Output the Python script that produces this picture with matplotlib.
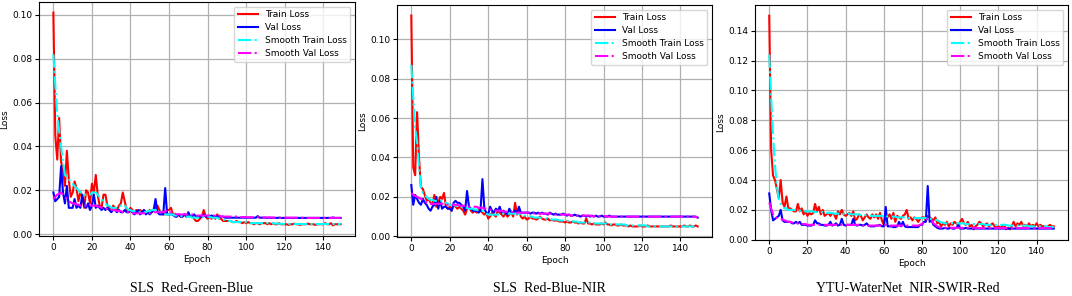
import matplotlib.pyplot as plt
import numpy as np

epochs = list(range(150))

# loss values, in units of 1e-3
rgb_train = [101, 45, 34, 53, 33, 29, 22, 38, 25, 17,
             19, 24, 21, 15, 19, 17, 12, 20, 19, 14,
             23, 19, 27, 18, 13, 12, 18, 18, 13, 12,
             11, 13, 12, 11, 13, 14, 19, 15, 11, 10,
             12, 11, 10, 11, 10, 11, 10, 11, 10, 10,
             11, 10, 11, 12, 13, 11, 10, 9, 9, 11,
             11, 12, 9, 9, 8, 9, 8, 8, 9, 8,
             9, 8, 8, 7, 6, 6, 7, 8, 11, 8,
             7, 8, 7, 8, 7, 9, 7, 7, 6, 6,
             6, 6, 6, 5.5, 5.5, 6, 5.5, 5.5, 5, 5.5,
             5, 5.5, 5, 5, 4.5, 5, 5, 4.5, 5, 5,
             5, 4.5, 5, 4.5, 5, 4.5, 4.5, 5, 4.5, 4.5,
             4.5, 4.5, 4.2, 4.5, 4.5, 4.8, 4.5, 4.5, 4.2, 4.5,
             4.5, 4.5, 4.8, 4.5, 4.5, 4.5, 4.2, 4.5, 4.5, 4.5,
             4.5, 5, 4.5, 4.5, 5, 4, 4.5, 4.5, 4.5, 4.5]
rgb_val = [19, 15, 16, 17, 31, 19, 14, 22, 12, 12,
           12, 16, 12, 13, 12, 18, 13, 12, 14, 11,
           13, 18, 12, 13, 12, 11, 12, 11, 12, 11,
           10, 11, 11, 10, 11, 10, 10, 11, 10, 10,
           11, 10, 9, 10, 11, 9, 10, 11, 9, 10,
           9, 10, 11, 16, 10, 9, 9, 9, 21, 9,
           9, 9, 9, 8, 8, 9, 8, 8, 9, 8,
           10, 8, 8, 9, 8, 8, 8, 8, 9, 8,
           8, 8, 8.5, 8, 8, 8, 8, 8, 8, 7.5,
           7.5, 7.5, 7.5, 7.5, 7.5, 7.5, 7.5, 7.5, 7.5, 7.5,
           7.5, 7.5, 7.5, 7.5, 7.5, 7.5, 8.2, 7.5, 7.5, 7.5,
           7.5, 7.4, 7.5, 7.4, 7.5, 7.4, 7.4, 7.5, 7.4, 7.4,
           7.4, 7.4, 7.4, 7.4, 7.4, 7.4, 7.4, 7.4, 7.4, 7.4,
           7.4, 7.4, 7.4, 7.4, 7.4, 7.4, 7.4, 7.4, 7.4, 7.4,
           7.4, 7.4, 7.4, 7.4, 7.4, 7.6, 7.4, 7.4, 7.4, 7.4]
rgb_smooth_train = [82, 68, 55, 47, 40, 33, 27, 26, 25, 24,
                    23, 22, 21, 20, 19, 19, 18, 18, 18, 18,
                    19, 19, 19, 18, 17, 16, 15, 14, 13, 13,
                    12, 12, 12, 12, 12.5, 13, 13.5, 13, 12, 11,
                    11, 10.5, 10.5, 10, 10, 10, 10, 10, 10, 10.5,
                    10.5, 11, 11, 11, 11, 10.5, 10, 9.5, 9, 9,
                    9, 9, 9, 8.5, 8.5, 8.5, 8.5, 8, 8, 8,
                    8, 8, 7.5, 7.5, 7.5, 7.5, 7.5, 7.5, 8, 8,
                    8, 8, 7.5, 7.5, 7.5, 7.5, 7, 7, 6.5, 6.5,
                    6, 6, 6, 5.5, 5.5, 5.5, 5.5, 5.5, 5.5, 5.5,
                    5.5, 5.5, 5, 5, 5, 5, 5, 5, 5, 5,
                    5, 5, 5, 5, 5, 4.8, 4.8, 4.8, 4.7, 4.7,
                    4.7, 4.6, 4.6, 4.6, 4.6, 4.6, 4.6, 4.6, 4.6, 4.6,
                    4.6, 4.6, 4.6, 4.6, 4.6, 4.6, 4.6, 4.6, 4.6, 4.6,
                    4.6, 4.6, 4.6, 4.6, 4.6, 4.6, 4.6, 4.6, 4.6, 4.6]
rgb_smooth_val = [16, 17, 18, 18.5, 19, 18, 17, 16, 15, 14.5,
                  14, 14, 13.5, 13.5, 13, 13, 13, 13, 13, 13,
                  13, 13, 13, 12.5, 12.5, 12, 12, 11.5, 11.5, 11,
                  11, 11, 11, 10.5, 10.5, 10.5, 10, 10, 10, 10,
                  10, 9.5, 9.5, 9.5, 9.5, 9.5, 9.5, 9.5, 9.5, 9.5,
                  9.5, 9.5, 10, 10, 10, 10, 10, 10, 10.5, 10.5,
                  10, 10, 9.5, 9.5, 9, 9, 9, 9, 9, 9,
                  9, 9, 9, 9, 8.5, 8.5, 8.5, 8.5, 8.5, 8.5,
                  8.5, 8.5, 8.5, 8.5, 8.5, 8.5, 8.5, 8, 8, 8,
                  8, 8, 8, 8, 8, 8, 8, 7.8, 7.8, 7.8,
                  7.7, 7.7, 7.7, 7.7, 7.7, 7.7, 7.7, 7.6, 7.6, 7.6,
                  7.6, 7.6, 7.6, 7.6, 7.5, 7.5, 7.5, 7.5, 7.5, 7.5,
                  7.5, 7.5, 7.5, 7.5, 7.5, 7.5, 7.5, 7.5, 7.5, 7.5,
                  7.4, 7.4, 7.4, 7.4, 7.4, 7.4, 7.4, 7.4, 7.4, 7.4,
                  7.4, 7.4, 7.4, 7.4, 7.4, 7.4, 7.4, 7.4, 7.4, 7.4]

nir_train = [112, 35, 31, 63, 40, 25, 24, 21, 18, 19,
             17, 16, 21, 15, 17, 20, 19, 22, 15, 14,
             15, 13, 16, 15, 14, 15, 14, 13, 11, 14,
             15, 13, 12, 13, 12, 14, 13, 12, 11, 12,
             9, 10, 12, 11, 10, 13, 12, 11, 10, 12,
             10, 11, 12, 10, 17, 11, 13, 10, 9, 10,
             8.5, 9, 10, 9, 9, 8.5, 9, 10, 9, 8.5,
             8.5, 9, 8, 8.5, 8, 8, 8, 7.5, 7.5, 7.5,
             7, 7.5, 7, 7, 7.5, 7, 7, 6.5, 7, 6.5,
             6.5, 9, 6.5, 6.5, 6, 6.5, 6, 6, 6, 6.5,
             6, 7, 6, 6, 5.5, 6, 6, 5.5, 5.5, 6,
             5.5, 5.5, 5.5, 5, 5.5, 5, 5, 5, 5, 5.5,
             5, 5, 5, 5.5, 5, 5, 5, 5, 5, 5,
             5, 5, 5, 5, 5, 5.5, 5, 5, 5, 5,
             5, 5, 5.5, 5, 5, 5.5, 5, 5, 5.5, 5]
nir_val = [26, 16, 21, 19, 17, 16, 19, 17, 16, 14,
           13, 15, 16, 20, 14, 18, 14, 15, 15, 14,
           14, 13, 17, 18, 17, 17, 16, 15, 13, 23,
           15, 14, 13, 13, 13, 12, 13, 29, 14, 12,
           11, 15, 13, 12, 14, 13, 15, 12, 13, 12,
           11, 14, 12, 12, 13, 12, 15, 12, 12, 12,
           12, 12, 11.5, 12, 12, 11.5, 12, 11.5, 12, 11.5,
           11.5, 11, 12, 11.5, 11, 11.5, 11, 11, 11, 11.5,
           11, 10.5, 11, 10.5, 10.5, 11, 10.5, 10.5, 10, 10.5,
           10.5, 10, 10.5, 10, 10.5, 10, 10.5, 10, 10, 10.5,
           10, 10, 10, 10.5, 10, 10, 10, 10, 10, 10,
           10, 10, 10, 10, 10, 10, 10, 10, 10, 10,
           10, 10, 10, 10, 10, 10, 10, 10, 10, 10,
           10, 10, 10, 10, 10, 10, 10, 10, 10, 10,
           10, 10, 10, 10, 10, 10, 10, 10, 10, 9.5]
nir_smooth_train = [87, 70, 55, 48, 35, 25, 22, 21, 20, 19,
                    18.5, 18.5, 18, 18, 18, 18, 18, 18, 17, 16.5,
                    16, 16, 16, 15.5, 15.5, 15, 15, 15, 14.5, 14.5,
                    14, 14, 14, 13.5, 13.5, 13, 13, 13, 12, 11.5,
                    11, 11, 11, 11, 11, 11, 11, 11.5, 11.5, 11.5,
                    11.5, 11.5, 11.5, 11.5, 11.5, 11.5, 11.5, 11, 11, 10.5,
                    10.5, 10, 10, 10, 9.5, 9.5, 9.5, 9.5, 9, 9,
                    9, 9, 9, 8.5, 8.5, 8.5, 8.5, 8, 8, 8,
                    8, 8, 7.5, 7.5, 7.5, 7.5, 7.5, 7, 7, 7,
                    7, 7, 7, 7, 7, 6.5, 6.5, 6.5, 6.5, 6.5,
                    6.5, 6.5, 6.5, 6, 6, 6, 6, 6, 6, 6,
                    6, 6, 5.5, 5.5, 5.5, 5.5, 5.5, 5.5, 5.5, 5.5,
                    5.5, 5.5, 5.5, 5, 5, 5, 5, 5, 5, 5,
                    5, 5, 5, 5, 5, 5, 5, 5, 5, 5,
                    5, 5, 5, 5, 5, 5, 5, 5, 5, 5]
nir_smooth_val = [22, 21, 20.5, 20, 19.5, 19, 18.5, 18, 17, 16.5,
                  16.5, 16.5, 16.5, 16.5, 16.5, 16.5, 16.5, 16.5, 16, 16,
                  16, 16, 16, 16, 16, 15.5, 15.5, 15.5, 15.5, 15,
                  15, 15, 15, 15, 15, 14.5, 14.5, 14.5, 14, 14,
                  13.5, 13.5, 13.5, 13, 13, 13, 13, 13, 12.5, 12.5,
                  12.5, 12.5, 12.5, 12, 12, 12, 12, 12, 12, 12,
                  12, 12, 12, 12, 11.5, 11.5, 11.5, 11.5, 11.5, 11.5,
                  11.5, 11.5, 11.5, 11.5, 11, 11, 11, 11, 11, 11,
                  11, 11, 11, 10.5, 10.5, 10.5, 10.5, 10.5, 10.5, 10.5,
                  10.5, 10.5, 10.5, 10.5, 10.2, 10.2, 10.2, 10.2, 10.2, 10.2,
                  10.2, 10.2, 10, 10, 10, 10, 10, 10, 10, 10,
                  10, 10, 10, 10, 10, 10, 10, 10, 10, 10,
                  10, 10, 10, 10, 10, 10, 10, 10, 10, 10,
                  10, 10, 10, 10, 10, 10, 10, 10, 10, 10,
                  10, 10, 10, 10, 10, 10, 10, 10, 9.8, 9.5]

ytu_train = [150, 60, 43, 40, 34, 28, 40, 25, 22, 29,
             21, 21, 20, 19, 19, 24, 19, 21, 17, 19,
             16, 18, 17, 18, 24, 19, 22, 17, 20, 16,
             17, 18, 16, 18, 17, 14, 19, 17, 20, 17,
             16, 17, 18, 16, 19, 13, 14, 17, 16, 13,
             15, 17, 15, 14, 17, 15, 17, 14, 18, 13,
             10, 16, 15, 17, 14, 18, 12, 16, 15, 14,
             16, 17, 20, 14, 15, 13, 15, 14, 12, 14,
             15, 15, 13, 16, 15, 14, 13, 15, 11, 12,
             9, 11, 10, 12, 9, 11, 10, 12, 11, 10,
             12, 14, 11, 10, 12, 9, 10, 7, 9, 10,
             12, 11, 9, 10, 11, 9, 10, 11, 9, 8,
             9, 8, 9, 10, 7, 8, 7, 9, 12, 9,
             11, 10, 12, 9, 10, 9, 11, 9, 10, 9,
             11, 9, 10, 9, 9, 8.5, 9, 10, 9, 9]
ytu_val = [31, 20, 13, 14, 15, 16, 20, 13, 12, 12,
           12, 12, 11, 11, 12, 11, 12, 10, 10, 10,
           9.5, 9.5, 9.5, 10, 13, 11, 11, 10, 10, 9.5,
           9.5, 10, 12, 9.5, 10, 11, 9.5, 10, 14, 10,
           9.5, 10, 10, 10, 14, 10, 9.5, 10, 10, 9.5,
           10, 11, 9.5, 9, 9, 9, 9.5, 9.5, 10, 9,
           9, 22, 9, 9, 9, 8.5, 8.5, 9, 12, 9,
           12, 9, 8.5, 8.5, 8.5, 8.5, 8.5, 8.5, 8.5, 10,
           10, 12, 12, 36, 12, 13, 10, 9, 8, 7.5,
           7.5, 7.5, 8, 7.5, 7.5, 8, 7.5, 7.5, 8, 10,
           7.5, 7.5, 7.5, 8, 7.5, 7.5, 7.5, 7.5, 7.5, 7.5,
           7.5, 7.5, 7.5, 7.5, 7.5, 7.5, 7.5, 7.5, 7.5, 7.5,
           7.5, 7.5, 7.5, 7.5, 7.5, 7.5, 7.5, 7.5, 7.5, 7.5,
           7.5, 7.5, 7.5, 7.5, 7.5, 7.5, 7.5, 7.5, 7.5, 7.5,
           7.5, 7.5, 7.5, 7.5, 7.5, 7.5, 7.5, 7.5, 7.5, 7.5]
ytu_smooth_train = [124, 95, 70, 50, 36, 27, 24, 22, 21, 21,
                    20, 20, 20, 20, 19.5, 19.5, 19.5, 19.5, 19, 19,
                    19, 19, 19, 19, 18.5, 18.5, 18.5, 18.5, 18.5, 18,
                    18, 18, 18, 18, 17.5, 17.5, 17.5, 17.5, 17.5, 17.5,
                    17.5, 17.5, 17.5, 17, 17, 17, 17, 17, 16.5, 16.5,
                    16.5, 16.5, 16.5, 16, 16, 16, 16, 16, 16, 16,
                    16, 16, 15.5, 15.5, 15.5, 15.5, 15.5, 15, 15, 15,
                    15, 15, 15, 14.5, 14.5, 14.5, 14.5, 14.5, 14.5, 14.5,
                    14.5, 14.5, 14.5, 14.5, 14, 14, 14, 13.5, 13, 12.5,
                    11.5, 11.5, 11, 11, 11, 11, 11, 11, 11, 11,
                    11, 11, 11, 10.5, 10.5, 10.5, 10.5, 10.5, 10.5, 10.5,
                    10.5, 10.5, 10.5, 10, 10, 10, 10, 10, 10, 10,
                    10, 10, 10, 10, 10, 9.5, 9.5, 9.5, 9.5, 9.5,
                    9.5, 9.5, 9.5, 9.5, 9.5, 9.5, 9, 9, 9, 9,
                    9, 9, 9, 9, 9, 9, 8.5, 8.5, 8.5, 8.5]
ytu_smooth_val = [25, 21, 17, 15, 14.5, 14, 14, 13.5, 13, 12.5,
                  12, 12, 11.5, 11.5, 11, 11, 11, 10.5, 10.5, 10.5,
                  10, 10, 10, 10, 10, 10, 10, 10, 10, 10,
                  10, 10, 10, 10, 10, 10, 10, 10, 10, 10,
                  10, 10, 10, 10, 10, 10, 10, 10, 9.5, 9.5,
                  9.5, 9.5, 9.5, 9.5, 9.5, 9.5, 9.5, 9.5, 9.5, 9.5,
                  9.5, 10, 10, 9.5, 9.5, 9.5, 9.5, 9.5, 9.5, 9.5,
                  9.5, 9.5, 9.5, 9.5, 9.5, 9.5, 9.5, 9.5, 9.5, 10,
                  10.5, 12, 13, 14, 14, 13, 11, 10, 9, 8.5,
                  8, 8, 8, 8, 8, 8, 8, 8, 8, 8,
                  8, 8, 8, 8, 8, 8, 8, 8, 8, 7.8,
                  7.8, 7.8, 7.8, 7.8, 7.8, 7.8, 7.8, 7.8, 7.8, 7.8,
                  7.8, 7.8, 7.8, 7.8, 7.8, 7.8, 7.8, 7.8, 7.8, 7.8,
                  7.8, 7.8, 7.8, 7.8, 7.8, 7.8, 7.8, 7.8, 7.8, 7.8,
                  7.8, 7.8, 7.8, 7.8, 7.8, 7.8, 7.8, 7.8, 7.8, 7.8]

captions = ['SLS  Red-Green-Blue', 'SLS  Red-Blue-NIR', 'YTU-WaterNet  NIR-SWIR-Red']
panels = [
    (rgb_train, rgb_val, rgb_smooth_train, rgb_smooth_val),
    (nir_train, nir_val, nir_smooth_train, nir_smooth_val),
    (ytu_train, ytu_val, ytu_smooth_train, ytu_smooth_val),
]
ytop = [0.10, 0.10, 0.14]

W, H = 1072, 296
fig = plt.figure(figsize=(W / 100, H / 100), dpi=100)

# axes boxes in pixels: left, top, right, bottom
boxes = [(39, 2, 355, 236), (397, 5, 712, 237), (755, 5, 1068, 240)]
cap_x = [191, 549, 908]
fs = 6.5

for i, (tr, va, str_, sva) in enumerate(panels):
    l, t, r, b = boxes[i]
    ax = fig.add_axes([l / W, 1 - b / H, (r - l) / W, (b - t) / H])
    ax.plot(epochs, np.array(tr) / 1000, color='red', lw=1.5, label='Train Loss')
    ax.plot(epochs, np.array(va) / 1000, color='blue', lw=1.5, label='Val Loss')
    ax.plot(epochs, np.array(str_) / 1000, color='cyan', lw=1.5, ls='-.', label='Smooth Train Loss')
    ax.plot(epochs, np.array(sva) / 1000, color='magenta', lw=1.5, ls='-.', label='Smooth Val Loss')
    ax.set_xticks(range(0, 141, 20))
    ax.set_yticks(np.arange(0, ytop[i] + 0.001, 0.02))
    ax.yaxis.set_major_formatter(plt.FormatStrFormatter('%.2f'))
    ax.tick_params(labelsize=fs, length=3, pad=2)
    ax.grid(True, color='#b0b0b0', lw=0.9)
    ax.set_xlabel('Epoch', fontsize=fs, labelpad=2)
    ax.set_ylabel('Loss', fontsize=fs, labelpad=2)
    ax.legend(loc='upper right', fontsize=fs, handlelength=2.2, borderpad=0.4,
              labelspacing=0.45, handletextpad=0.8)
    fig.text(cap_x[i] / W, 1 - 289 / H, captions[i], ha='center', va='center',
             fontsize=10, family='Liberation Serif')

fig.savefig('out.png', dpi=100)
